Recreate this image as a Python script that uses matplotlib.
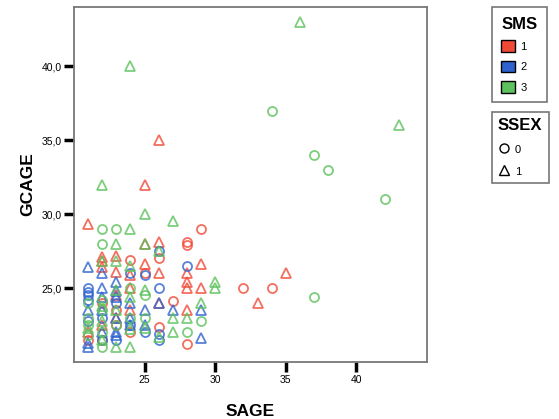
import matplotlib
matplotlib.use("Agg")
import matplotlib.pyplot as plt
from matplotlib.lines import Line2D
from matplotlib.patches import Patch

plt.rcParams['font.family'] = ['Liberation Sans', 'DejaVu Sans']

# ---- DATA (SAGE, GCAGE) per SMS group and SSEX ----
# SMS 1
sms1_sex0_x = [24, 28, 28, 29, 32, 34, 27, 26, 28, 26, 22, 23, 24, 21, 22, 25, 23]
sms1_sex0_y = [26.9, 28.1, 27.9, 29.0, 25.0, 25.0, 24.1, 22.4, 21.2, 27.0, 21.5, 23.5, 22.0, 21.5, 24.0, 26.0, 22.5]
sms1_sex1_x = [26, 25, 21, 25, 26, 22, 23, 25, 22, 23, 24, 24, 26, 28, 28, 28, 29, 29, 35, 33, 28, 22, 23, 24, 21, 22, 23, 26]
sms1_sex1_y = [35.0, 32.0, 29.3, 28.0, 28.1, 27.1, 27.2, 26.6, 26.4, 26.1, 25.9, 25.0, 26.0, 26.0, 25.4, 25.0, 26.6, 25.0,
               26.0, 24.0, 23.5, 26.8, 23.0, 23.5, 22.0, 22.5, 24.5, 24.0]
# SMS 2
sms2_sex0_x = [24, 25, 21, 21, 21, 26, 28, 26, 26, 26, 22, 23, 24, 21, 22, 25, 23, 21]
sms2_sex0_y = [26.0, 25.9, 25.0, 24.7, 24.2, 27.5, 26.5, 25.0, 21.9, 21.5, 23.0, 24.0, 22.5, 22.8, 21.5, 22.0, 21.5, 24.5]
sms2_sex1_x = [21, 22, 23, 22, 22, 23, 26, 27, 29, 29, 21, 21, 22, 23, 23, 24, 24, 25, 22, 23, 24, 25, 21, 23]
sms2_sex1_y = [26.4, 26.0, 25.4, 25.0, 24.4, 24.4, 24.0, 23.5, 23.5, 21.6, 21.0, 21.3, 23.5, 23.0, 22.0, 23.0, 24.0, 23.5,
               22.0, 21.8, 22.5, 22.5, 23.5, 24.8]
# SMS 3
sms3_sex0_x = [34, 37, 38, 42, 22, 23, 22, 37, 29, 28, 22, 21, 21, 22, 24, 25, 21, 22, 23, 22, 24, 25, 21]
sms3_sex0_y = [37.0, 34.0, 33.0, 31.0, 29.0, 29.0, 28.0, 24.4, 22.8, 22.0, 21.0, 23.0, 22.5, 23.5, 23.0, 23.0, 24.0, 24.2,
               22.5, 22.0, 25.0, 24.5, 21.8]
sms3_sex1_x = [36, 24, 43, 22, 25, 27, 24, 23, 25, 26, 22, 23, 23, 25, 24, 30, 30, 29, 27, 28, 26, 27, 23, 24, 22, 22,
               23, 24, 21, 25, 22, 24]
sms3_sex1_y = [43.0, 40.0, 36.0, 32.0, 30.0, 29.5, 29.0, 28.0, 28.0, 27.5, 26.8, 26.8, 24.9, 24.9, 24.4, 25.4, 25.0, 24.0,
               23.0, 23.0, 21.7, 22.0, 21.0, 21.0, 22.8, 23.8, 23.5, 22.2, 22.3, 22.3, 21.5, 26.5]

sms_labels = ["1", "2", "3"]
ssex_labels = ["0", "1"]
colors = ["#f04a37", "#2e63cf", "#5dc15d"]

groups = [
    (sms1_sex0_x, sms1_sex0_y, 0, "o"), (sms1_sex1_x, sms1_sex1_y, 0, "^"),
    (sms2_sex0_x, sms2_sex0_y, 1, "o"), (sms2_sex1_x, sms2_sex1_y, 1, "^"),
    (sms3_sex0_x, sms3_sex0_y, 2, "o"), (sms3_sex1_x, sms3_sex1_y, 2, "^"),
]

# ---- PLOT ----
fig = plt.figure(figsize=(5.59, 4.19), dpi=100)
ax = fig.add_axes([0.1324, 0.136, 0.6315, 0.8473])

for xs, ys, ci, mk in groups:
    ax.plot(xs, ys, linestyle="none", marker=mk, markersize=6.5 if mk == "o" else 6.8,
            markerfacecolor="none", markeredgecolor=colors[ci], markeredgewidth=1.3, alpha=0.8)

ax.set_xlim(20, 45)
ax.set_ylim(20, 44)
ax.set_xticks([25, 30, 35, 40])
ax.set_yticks([25, 30, 35, 40])
ax.set_yticklabels([f"{v:.1f}".replace(".", ",") for v in [25, 30, 35, 40]])
ax.tick_params(direction="out", length=7, width=2.5, color="black", labelsize=7.5, pad=2)
for s in ax.spines.values():
    s.set_color("#777777")
    s.set_linewidth(1.3)

ax.set_xlabel("SAGE", fontsize=12.5, fontweight="bold", labelpad=14)
ax.set_ylabel("GCAGE", fontsize=12.5, fontweight="bold", labelpad=4)

# ---- LEGENDS ----
sms_handles = [Patch(facecolor=c, edgecolor="black", linewidth=1.0) for c in colors]
leg1 = fig.legend(sms_handles, sms_labels, title="SMS", loc="upper left", bbox_to_anchor=(0.880, 0.983),
                  borderaxespad=0, alignment="left", fancybox=False, edgecolor="#777777", fontsize=8,
                  title_fontproperties={"weight": "bold", "size": 12},
                  handlelength=1.2, handleheight=1.2, handletextpad=0.5, labelspacing=0.8,
                  borderpad=0.85, framealpha=1)
leg1.get_frame().set_linewidth(1.2)

ssex_handles = [Line2D([], [], linestyle="none", marker=m, markersize=6.5, markerfacecolor="none",
                       markeredgecolor="black", markeredgewidth=1.0) for m in ["o", "^"]]
leg2 = fig.legend(ssex_handles, ssex_labels, title="SSEX", loc="upper left", bbox_to_anchor=(0.880, 0.733),
                  borderaxespad=0, alignment="left", fancybox=False, edgecolor="#777777", fontsize=8,
                  title_fontproperties={"weight": "bold", "size": 12},
                  handlelength=1.0, handleheight=1.3, handletextpad=0.5, labelspacing=0.9,
                  borderpad=0.55, framealpha=1)
leg2.get_frame().set_linewidth(1.2)

plt.savefig("out.png", dpi=100)
